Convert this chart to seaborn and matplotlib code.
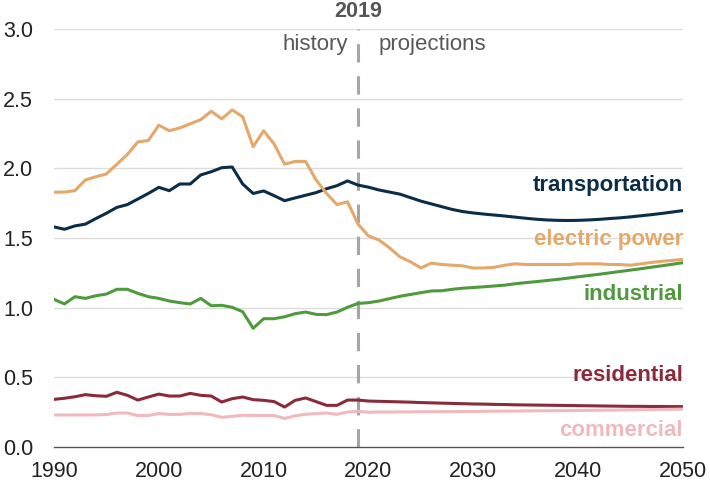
import matplotlib
matplotlib.use("Agg")
import matplotlib.pyplot as plt
import seaborn as sns
import pandas as pd
import numpy as np

years = list(range(1990, 2051))

transportation = [
    1.58, 1.563, 1.587, 1.60, 1.64, 1.678, 1.72, 1.74, 1.78, 1.82,
    1.864, 1.84, 1.888, 1.888, 1.953, 1.976, 2.005, 2.01, 1.888, 1.82,
    1.838, 1.804, 1.768, 1.788, 1.807, 1.826, 1.854, 1.876, 1.91, 1.88,
    1.865, 1.845, 1.83, 1.815, 1.79, 1.765, 1.745, 1.725, 1.705, 1.69,
    1.68, 1.672, 1.665, 1.658, 1.65, 1.642, 1.635, 1.63, 1.627, 1.626,
    1.627, 1.63, 1.634, 1.64, 1.645, 1.652, 1.66, 1.668, 1.677, 1.687,
    1.697]

electric_power = [
    1.829, 1.83, 1.84, 1.917, 1.94, 1.96, 2.03, 2.10, 2.19, 2.20,
    2.31, 2.27, 2.29, 2.32, 2.35, 2.41, 2.355, 2.42, 2.37, 2.156,
    2.27, 2.175, 2.03, 2.05, 2.05, 1.917, 1.82, 1.74, 1.76, 1.60,
    1.515, 1.486, 1.43, 1.365, 1.33, 1.285, 1.32, 1.31, 1.305, 1.30,
    1.285, 1.285, 1.29, 1.305, 1.315, 1.31, 1.31, 1.31, 1.31, 1.31,
    1.315, 1.315, 1.315, 1.31, 1.31, 1.305, 1.315, 1.325, 1.333, 1.34,
    1.347]

industrial = [
    1.06, 1.027, 1.079, 1.067, 1.086, 1.098, 1.132, 1.132, 1.103, 1.079,
    1.067, 1.048, 1.036, 1.027, 1.067, 1.014, 1.017, 1.003, 0.971, 0.852,
    0.921, 0.921, 0.935, 0.957, 0.969, 0.952, 0.95, 0.969, 1.003, 1.031,
    1.036, 1.048, 1.065, 1.082, 1.095, 1.108, 1.12, 1.122, 1.132, 1.14,
    1.145, 1.15, 1.156, 1.162, 1.172, 1.18, 1.187, 1.195, 1.203, 1.212,
    1.222, 1.231, 1.24, 1.25, 1.26, 1.27, 1.28, 1.291, 1.301, 1.312,
    1.323]

residential = [
    0.342, 0.35, 0.361, 0.376, 0.368, 0.364, 0.393, 0.371, 0.337, 0.359,
    0.38, 0.366, 0.366, 0.385, 0.371, 0.366, 0.323, 0.347, 0.359, 0.34,
    0.335, 0.326, 0.287, 0.335, 0.352, 0.326, 0.299, 0.299, 0.337, 0.337,
    0.33, 0.328, 0.326, 0.324, 0.322, 0.319, 0.317, 0.315, 0.313, 0.311,
    0.309, 0.308, 0.306, 0.305, 0.303, 0.302, 0.301, 0.3, 0.299, 0.298,
    0.297, 0.296, 0.295, 0.294, 0.293, 0.292, 0.292, 0.291, 0.291, 0.29,
    0.29]

commercial = [
    0.23, 0.23, 0.23, 0.23, 0.231, 0.233, 0.244, 0.244, 0.225, 0.227,
    0.24, 0.234, 0.234, 0.242, 0.24, 0.232, 0.213, 0.22, 0.228, 0.226,
    0.226, 0.226, 0.205, 0.224, 0.235, 0.24, 0.244, 0.235, 0.251, 0.256,
    0.25, 0.251, 0.251, 0.252, 0.252, 0.253, 0.253, 0.254, 0.254, 0.255,
    0.255, 0.256, 0.257, 0.258, 0.258, 0.259, 0.26, 0.26, 0.261, 0.261,
    0.262, 0.263, 0.264, 0.265, 0.266, 0.267, 0.268, 0.269, 0.27, 0.271,
    0.272]

sectors = ["transportation", "electric power", "industrial", "residential", "commercial"]
colors = ["#0b2d48", "#e3a86a", "#4e9a3d", "#8a2b3b", "#f0b9be"]
label_y = [1.874, 1.486, 1.098, 0.51, 0.122]
yticks = [0.0, 0.5, 1.0, 1.5, 2.0, 2.5, 3.0]
xticks = [1990, 2000, 2010, 2020, 2030, 2040, 2050]

series = [transportation, electric_power, industrial, residential, commercial]
df = pd.concat([pd.DataFrame({"year": years, "value": v, "sector": s})
                for s, v in zip(sectors, series)], ignore_index=True)

sns.set_style("white")
plt.rcParams["font.family"] = ["Liberation Sans", "DejaVu Sans"]

fig = plt.figure(figsize=(7.1, 4.86), dpi=100)
ax = fig.add_axes([0.076, 0.0802, 0.886, 0.86])

for y in yticks[1:]:
    ax.axhline(y, color="#dcdcdc", lw=1.0, zorder=0)

ax.axvline(2019, color="#a6a6a6", lw=2.2, dashes=(6, 4.5), zorder=1, ymax=1.0)

sns.lineplot(data=df, x="year", y="value", hue="sector", hue_order=sectors,
             palette=colors, linewidth=2.2, legend=False, ax=ax, zorder=3)

for s, c, ly in zip(sectors, colors, label_y):
    ax.text(2050, ly, s, color=c, fontsize=16, fontweight="bold",
            ha="right", va="center")

ax.annotate("2019", xy=(2019, 1.0), xycoords=("data", "axes fraction"),
            xytext=(0, 5), textcoords="offset points", ha="center",
            va="bottom", fontsize=15.5, fontweight="bold", color="#555555")
ax.text(2018.0, 2.89, "history", ha="right", va="center", fontsize=16, color="#595959")
ax.text(2021.0, 2.89, "projections", ha="left", va="center", fontsize=16, color="#595959")

ax.set_xlim(1990, 2050)
ax.set_ylim(0, 3.0)
ax.set_xticks(xticks)
ax.set_yticks(yticks)
ax.set_yticklabels([f"{t:.1f}" for t in yticks])
ax.set_xlabel("")
ax.set_ylabel("")
ax.tick_params(axis="both", labelsize=15.5, colors="#222222")
ax.tick_params(axis="x", length=7, width=1, color="#555555", direction="out", pad=3)
ax.tick_params(axis="y", length=0, pad=15)
for sp in ["left", "right", "top"]:
    ax.spines[sp].set_visible(False)
ax.spines["bottom"].set_color("#555555")
ax.spines["bottom"].set_linewidth(1.0)

fig.savefig("out.png", dpi=100)
